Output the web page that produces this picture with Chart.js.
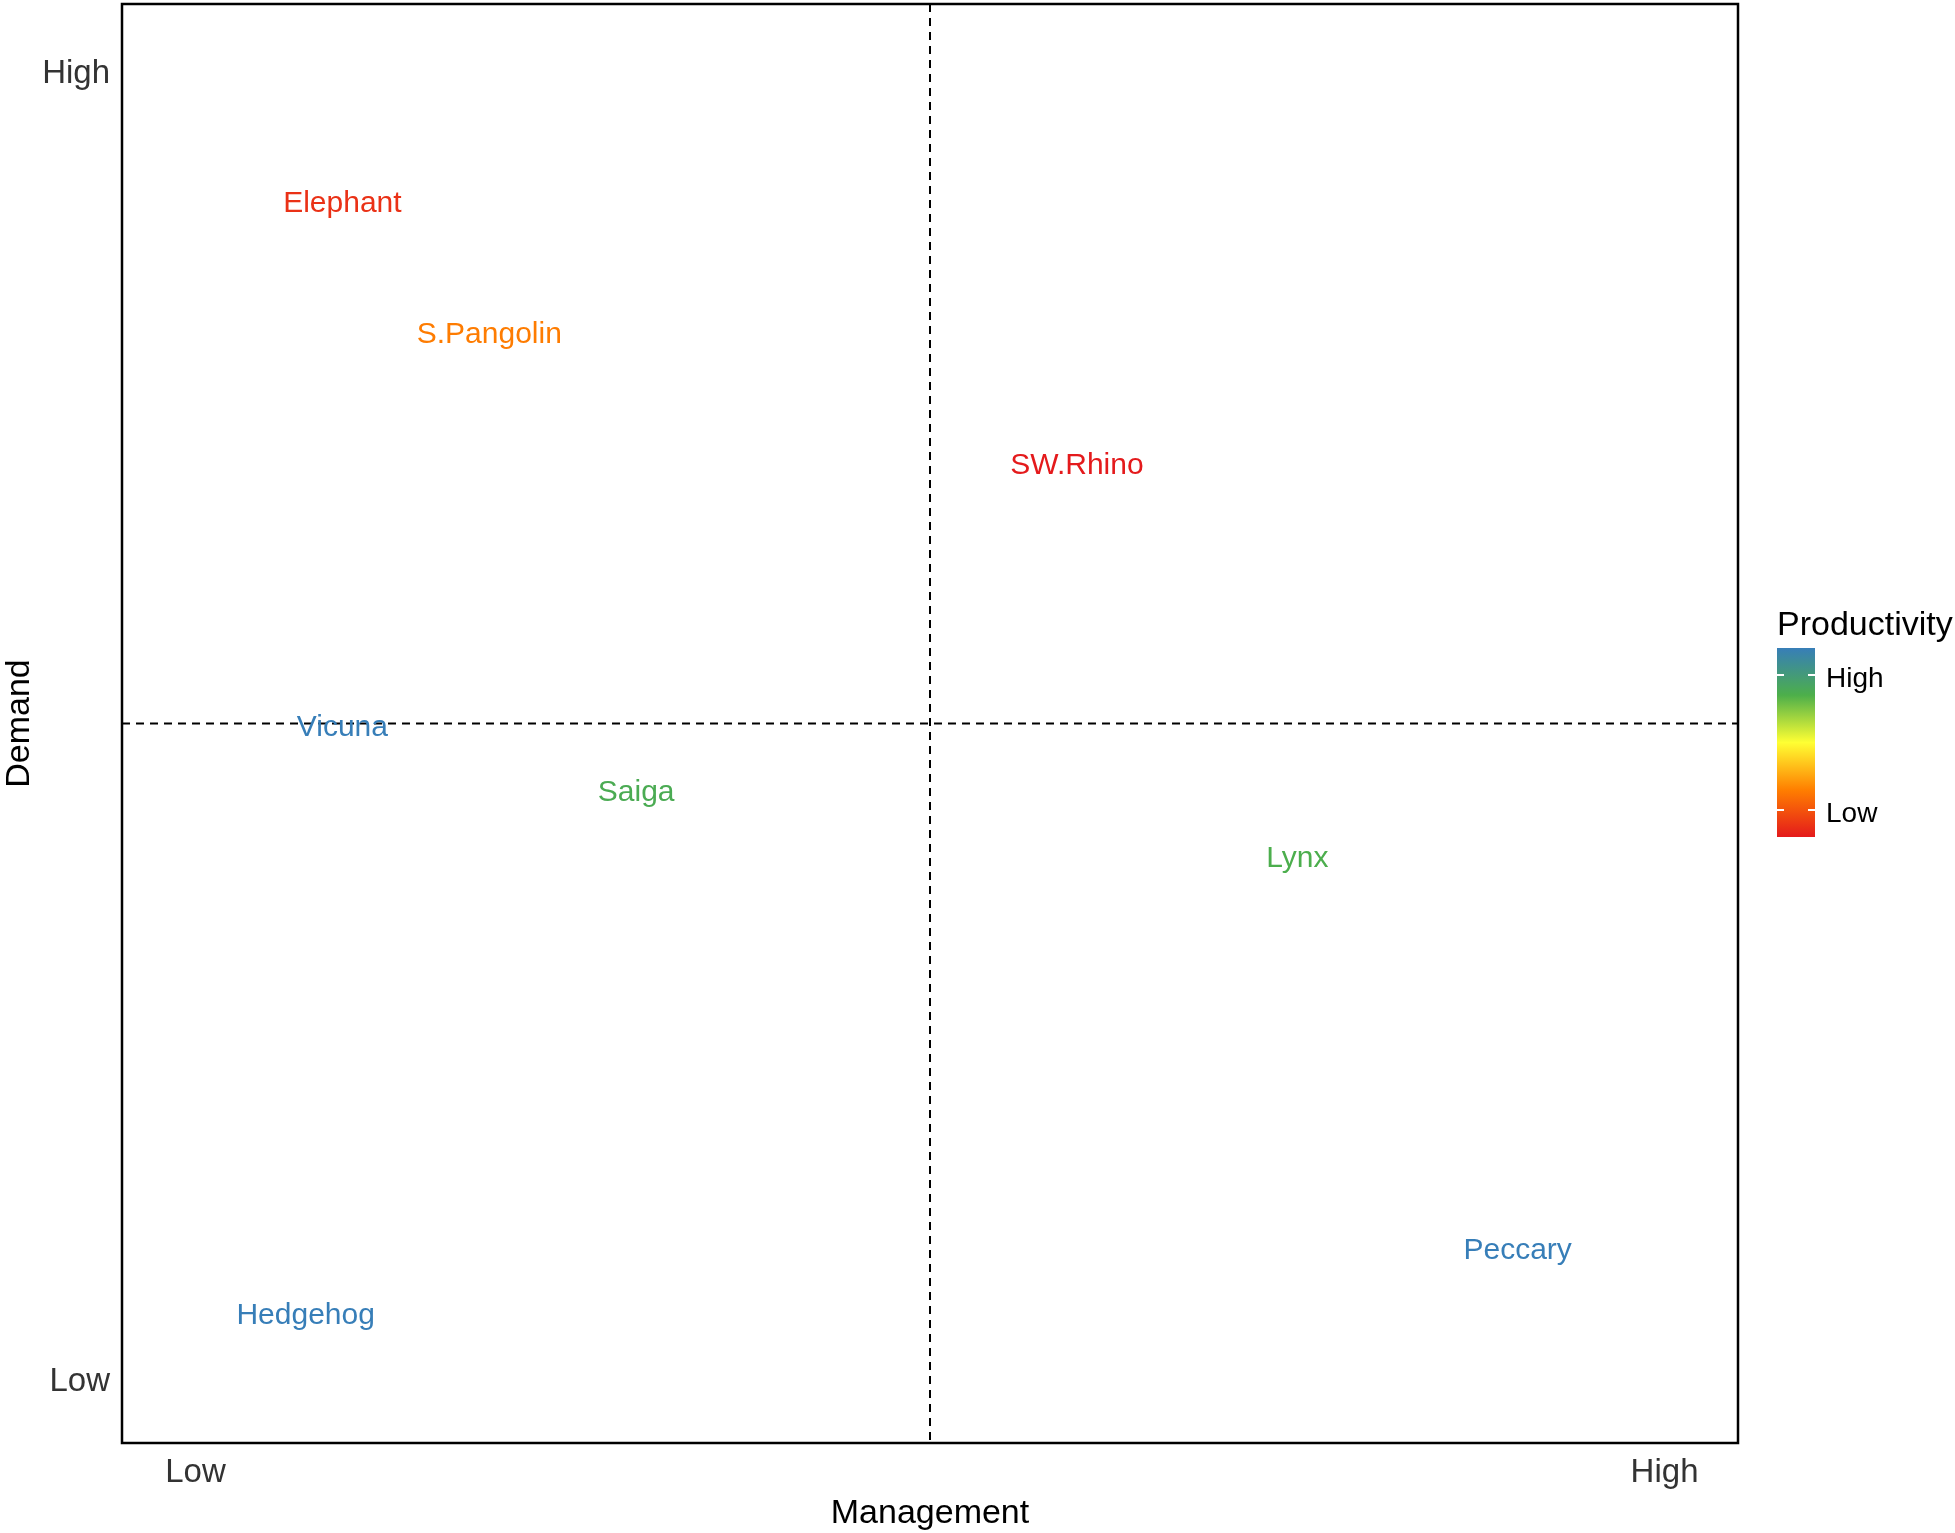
<!DOCTYPE html>
<html>
<head>
<meta charset="utf-8">
<script src="https://cdn.jsdelivr.net/npm/chart.js@4.4.1/dist/chart.umd.min.js"></script>
<style>
  html, body { margin: 0; padding: 0; background: #ffffff; }
  #wrap { width: 1955px; height: 1533px; }
</style>
</head>
<body>
<div id="wrap"><canvas id="c" width="1955" height="1533"></canvas></div>
<script>
// ---- Data ----
const species = ['Elephant', 'S.Pangolin', 'SW.Rhino', 'Vicuna', 'Saiga', 'Lynx', 'Peccary', 'Hedgehog'];
const management = [1, 2, 6, 1, 3, 7.5, 9, 0.75];
const demand = [9, 8, 7, 5, 4.5, 4, 1, 0.5];
const productivity = [0.4, 1.7, 0, 7, 5.4, 5.3, 7, 7];

const axisTickValues = [0, 10];
const axisTickLabels = ['Low', 'High'];
const quadrantSplit = 5;

const productivityRange = [0, 7];
const legendBreakValues = [1, 6];
const legendBreakLabels = ['Low', 'High'];
const paletteStops = ['#E41A1C', '#FF7F00', '#FFFF33', '#4DAF4A', '#377EB8'];

// ---- helpers ----
const FONT = '"Liberation Sans", Arial, Helvetica, sans-serif';
function hexToRgb(h) {
  const n = parseInt(h.slice(1), 16);
  return [(n >> 16) & 255, (n >> 8) & 255, n & 255];
}
function colorFor(v) {
  const t = Math.max(0, Math.min(1, (v - productivityRange[0]) / (productivityRange[1] - productivityRange[0])));
  const seg = t * (paletteStops.length - 1);
  const i = Math.min(paletteStops.length - 2, Math.floor(seg));
  const f = seg - i;
  const a = hexToRgb(paletteStops[i]), b = hexToRgb(paletteStops[i + 1]);
  const c = a.map((x, k) => Math.round(x + (b[k] - x) * f));
  return 'rgb(' + c.join(',') + ')';
}

const points = species.map((s, i) => ({ x: management[i], y: demand[i] }));

const quadrantPlugin = {
  id: 'quadrants',
  beforeDatasetsDraw(chart) {
    const { ctx, chartArea, scales } = chart;
    const xp = scales.x.getPixelForValue(quadrantSplit);
    const yp = scales.y.getPixelForValue(quadrantSplit);
    ctx.save();
    ctx.strokeStyle = '#000';
    ctx.lineWidth = 2;
    ctx.setLineDash([8, 6]);
    ctx.beginPath();
    ctx.moveTo(xp, chartArea.top); ctx.lineTo(xp, chartArea.bottom);
    ctx.moveTo(chartArea.left, yp); ctx.lineTo(chartArea.right, yp);
    ctx.stroke();
    ctx.restore();
  },
  afterDatasetsDraw(chart) {
    const { ctx, chartArea } = chart;
    const meta = chart.getDatasetMeta(0);
    ctx.save();
    ctx.font = '30px ' + FONT;
    ctx.textAlign = 'center';
    ctx.textBaseline = 'middle';
    meta.data.forEach((el, i) => {
      ctx.fillStyle = colorFor(productivity[i]);
      ctx.fillText(species[i], el.x, el.y + 4);
    });
    // panel border
    ctx.strokeStyle = '#000';
    ctx.lineWidth = 2.5;
    ctx.setLineDash([]);
    ctx.strokeRect(chartArea.left, chartArea.top, chartArea.right - chartArea.left, chartArea.bottom - chartArea.top);
    ctx.restore();
  },
  afterDraw(chart) {
    const { ctx } = chart;
    const barL = 1777, barR = 1815, barT = 648, barB = 837;
    ctx.save();
    // title
    ctx.fillStyle = '#000';
    ctx.font = '34px ' + FONT;
    ctx.textAlign = 'left';
    ctx.textBaseline = 'alphabetic';
    ctx.fillText('Productivity', 1777, 635);
    // gradient bar
    const g = ctx.createLinearGradient(0, barB, 0, barT);
    paletteStops.forEach((c, i) => g.addColorStop(i / (paletteStops.length - 1), c));
    ctx.fillStyle = g;
    ctx.fillRect(barL, barT, barR - barL, barB - barT);
    // ticks and labels
    ctx.font = '28px ' + FONT;
    ctx.textBaseline = 'middle';
    legendBreakValues.forEach((v, i) => {
      const f = (v - productivityRange[0]) / (productivityRange[1] - productivityRange[0]);
      const y = barB - f * (barB - barT);
      ctx.strokeStyle = '#ffffff';
      ctx.lineWidth = 2;
      ctx.beginPath();
      ctx.moveTo(barL, y); ctx.lineTo(barL + 7, y);
      ctx.moveTo(barR - 7, y); ctx.lineTo(barR, y);
      ctx.stroke();
      ctx.fillStyle = '#000';
      ctx.fillText(legendBreakLabels[i], 1826, y + 4);
    });
    ctx.restore();
  }
};

const tickFont = { family: FONT, size: 33 };
const yTickFont = { family: FONT, size: 33, lineHeight: '8px' };
const titleFont = { family: FONT, size: 34, lineHeight: 1 };

new Chart(document.getElementById('c'), {
  type: 'scatter',
  data: {
    datasets: [{
      label: 'Species',
      data: points,
      pointRadius: 0,
      pointHoverRadius: 0,
      showLine: false
    }]
  },
  options: {
    responsive: false,
    devicePixelRatio: 1,
    animation: false,
    events: [],
    layout: { padding: { top: 4, right: 217, left: 0, bottom: 0 } },
    plugins: { legend: { display: false }, tooltip: { enabled: false } },
    scales: {
      x: {
        type: 'linear',
        min: -0.5,
        max: 10.5,
        grid: { display: false, drawTicks: false },
        border: { display: false },
        afterBuildTicks(scale) { scale.ticks = axisTickValues.map(v => ({ value: v })); },
        afterFit(scale) { scale.height = 90; scale.paddingLeft = 0; scale.paddingRight = 0; },
        ticks: {
          autoSkip: false,
          maxRotation: 0,
          padding: 10,
          color: '#333333',
          font: tickFont,
          callback(value) { const i = axisTickValues.indexOf(value); return i >= 0 ? axisTickLabels[i] : ''; }
        },
        title: { display: true, text: 'Management', color: '#000', font: titleFont, padding: { top: 0, bottom: 2 } }
      },
      y: {
        type: 'linear',
        min: -0.5,
        max: 10.5,
        grid: { display: false, drawTicks: false },
        border: { display: false },
        afterBuildTicks(scale) { scale.ticks = axisTickValues.map(v => ({ value: v })); },
        afterFit(scale) { scale.width = 122; scale.paddingTop = 0; scale.paddingBottom = 0; },
        ticks: {
          autoSkip: false,
          padding: 12,
          color: '#333333',
          font: yTickFont,
          callback(value) { const i = axisTickValues.indexOf(value); return i >= 0 ? ['', axisTickLabels[i]] : ''; }
        },
        title: { display: true, text: 'Demand', color: '#000', font: titleFont, padding: { top: 3, bottom: 0 } }
      }
    }
  },
  plugins: [quadrantPlugin]
});
</script>
</body>
</html>
